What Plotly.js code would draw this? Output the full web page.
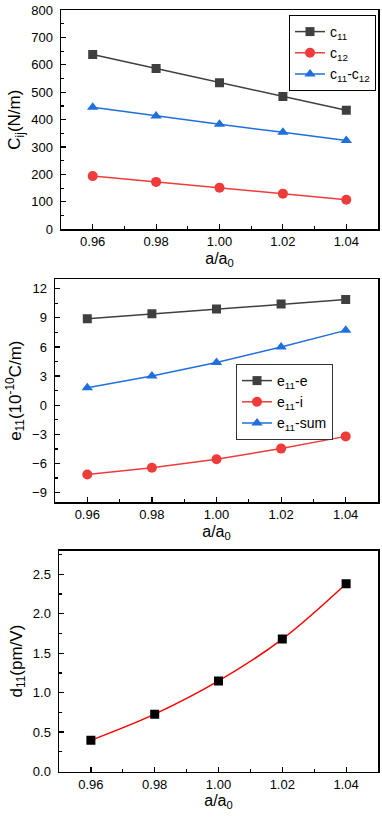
<!DOCTYPE html>
<html>
<head>
<meta charset="utf-8">
<script src="https://cdn.plot.ly/plotly-3.0.1.min.js"></script>
<style>html,body{margin:0;padding:0;background:#fff;}#chart{width:382px;height:824px;}</style>
</head>
<body>
<div id="chart"></div>
<script>
// ---- data ----
const strain = [0.96, 0.98, 1.00, 1.02, 1.04];
const c11 = [638, 587, 535, 484, 434];
const c12 = [194, 173, 152, 130, 108];
const c11MinusC12 = [445, 413, 383, 354, 324];
const e11e = [8.9, 9.41, 9.92, 10.43, 10.88];
const e11i = [-7.13, -6.45, -5.56, -4.47, -3.21];
const e11sum = [1.81, 3.0, 4.4, 6.0, 7.71];
const d11 = [0.395, 0.727, 1.148, 1.679, 2.381];
const xTicks = [0.96, 0.98, 1.00, 1.02, 1.04];
const xTickText = ['0.96', '0.98', '1.00', '1.02', '1.04'];

const FONT = 'Liberation Sans, Arial, Helvetica, sans-serif';
const gray = '#3f3f3f', red = '#f03b3b', blue = '#1f70dc';
const H = 824, W = 382;
const px = v => v / W;
const py = v => 1 - v / H;

const traces = [
  {x: strain, y: c11, name: 'c<sub>11</sub>', mode: 'lines+markers', xaxis: 'x', yaxis: 'y', legend: 'legend',
   line: {color: gray, width: 1.5}, marker: {symbol: 'square', size: 9, color: gray}},
  {x: strain, y: c12, name: 'c<sub>12</sub>', mode: 'lines+markers', xaxis: 'x', yaxis: 'y', legend: 'legend',
   line: {color: red, width: 1.5}, marker: {symbol: 'circle', size: 10, color: red}},
  {x: strain, y: c11MinusC12, name: 'c<sub>11</sub>-c<sub>12</sub>', mode: 'lines+markers', xaxis: 'x', yaxis: 'y', legend: 'legend',
   line: {color: blue, width: 1.5}, marker: {symbol: 'triangle-up', size: 10, color: blue}},
  {x: strain, y: e11e, name: 'e<sub>11</sub>-e', mode: 'lines+markers', xaxis: 'x2', yaxis: 'y2', legend: 'legend2',
   line: {color: gray, width: 1.5}, marker: {symbol: 'square', size: 9, color: gray}},
  {x: strain, y: e11i, name: 'e<sub>11</sub>-i', mode: 'lines+markers', xaxis: 'x2', yaxis: 'y2', legend: 'legend2',
   line: {color: red, width: 1.5}, marker: {symbol: 'circle', size: 10, color: red}},
  {x: strain, y: e11sum, name: 'e<sub>11</sub>-sum', mode: 'lines+markers', xaxis: 'x2', yaxis: 'y2', legend: 'legend2',
   line: {color: blue, width: 1.5}, marker: {symbol: 'triangle-up', size: 10, color: blue}},
  {x: strain, y: d11, name: 'd11', mode: 'lines+markers', xaxis: 'x3', yaxis: 'y3', showlegend: false,
   line: {color: '#ff0000', width: 1.5, shape: 'spline'}, marker: {symbol: 'square', size: 9, color: '#000'}}
];

function xAxis(dom, anchor) {
  return {
    domain: dom, anchor: anchor, range: [0.95, 1.05],
    tickvals: xTicks, ticktext: xTickText,
    ticks: 'inside', ticklen: 5, tickwidth: 1.2, tickcolor: '#000',
    minor: {ticks: 'inside', ticklen: 3, tickwidth: 1.2, tickcolor: '#000', dtick: 0.01, tick0: 0.95},
    showline: true, linecolor: '#000', linewidth: 1.5, mirror: true,
    showgrid: false, zeroline: false,
    tickfont: {family: FONT, size: 13, color: '#000'},
    title: {text: 'a/a<sub>0</sub>', font: {family: FONT, size: 16, color: '#000'}, standoff: 4},
    automargin: false
  };
}
function yAxis(dom, anchor, range, dtick, minorDtick, title, fmt) {
  return {
    domain: dom, anchor: anchor, range: range,
    dtick: dtick, tick0: 0, tickformat: fmt,
    ticks: 'inside', ticklen: 5, tickwidth: 1.2, tickcolor: '#000',
    minor: {ticks: 'inside', ticklen: 3, tickwidth: 1.2, tickcolor: '#000', dtick: minorDtick, tick0: 0},
    showline: true, linecolor: '#000', linewidth: 1.5, mirror: true,
    showgrid: false, zeroline: false,
    ticklabelstandoff: 4,
    tickfont: {family: FONT, size: 13, color: '#000'},
    title: {text: title, font: {family: FONT, size: 17, color: '#000'}, standoff: 6},
    automargin: false
  };
}

const layout = {
  width: W, height: H,
  margin: {l: 0, r: 0, t: 0, b: 0},
  paper_bgcolor: '#fff', plot_bgcolor: '#fff',
  font: {family: FONT, color: '#000'},
  xaxis: xAxis([px(61), px(378)], 'y'),
  yaxis: yAxis([py(229.3), py(10)], 'x', [0, 800], 100, 50, 'C<sub>ij</sub>(N/m)', 'd'),
  xaxis2: xAxis([px(55), px(378)], 'y2'),
  yaxis2: yAxis([py(502.3), py(279)], 'x2', [-10, 13], 3, 1.5, 'e<sub>11</sub>(10<sup>-10</sup>C/m)', 'd'),
  xaxis3: xAxis([px(59), px(378)], 'y3'),
  yaxis3: yAxis([py(771.5), py(550.7)], 'x3', [0, 2.8], 0.5, 0.25, 'd<sub>11</sub>(pm/V)', '.1f'),
  legend: {x: px(289), y: py(15), xanchor: 'left', yanchor: 'top',
    bordercolor: '#000', borderwidth: 1, bgcolor: '#fff',
    font: {family: FONT, size: 14, color: '#000'}, itemwidth: 30, tracegroupgap: 0},
  legend2: {x: px(236), y: py(364), xanchor: 'left', yanchor: 'top',
    bordercolor: '#333', borderwidth: 1, bgcolor: '#fff',
    font: {family: FONT, size: 14, color: '#000'}, itemwidth: 30, tracegroupgap: 0},
  showlegend: true
};

Plotly.newPlot('chart', traces, layout, {displayModeBar: false, staticPlot: true});
</script>
</body>
</html>
